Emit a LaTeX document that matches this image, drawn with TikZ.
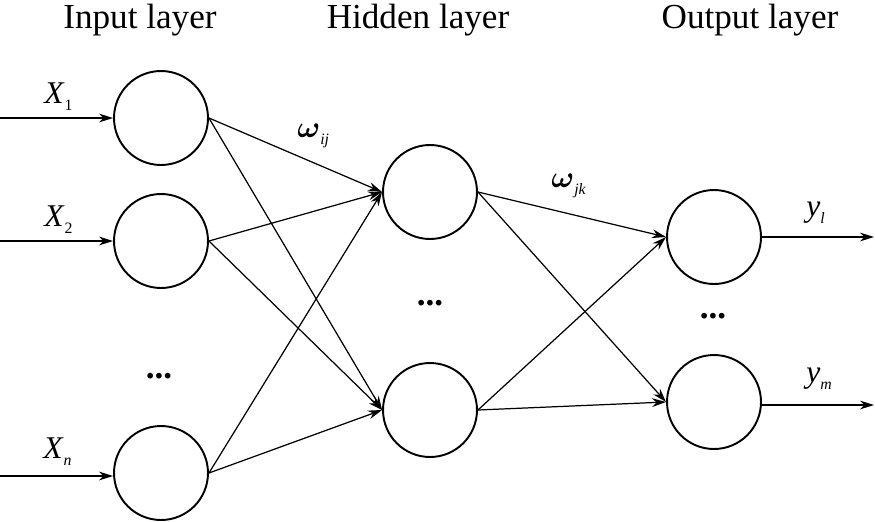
\documentclass[tikz,border=0pt]{standalone}
\usepackage{fontspec}
\setmainfont{Liberation Serif}
\usepackage{amsmath,bm}
\usetikzlibrary{arrows.meta}
\newcommand\subx[1]{\raisebox{-4pt}{\fontsize{9}{9}\selectfont #1}}
\begin{document}
\begin{tikzpicture}[x=0.02cm,y=-0.02cm,
  neuron/.style={circle,draw,line width=1.1pt,minimum size=1.88cm,inner sep=0pt},
  conn/.style={-{Stealth[length=8pt,width=5pt]},line width=0.7pt},
  title/.style={font=\fontsize{20}{24}\selectfont,anchor=base},
  lab/.style={font=\fontsize{18}{20}\selectfont,anchor=base west,inner sep=0pt},
  dots/.style={font=\fontsize{20}{20}\selectfont\bfseries,inner sep=0pt}]
\useasboundingbox (0,0) rectangle (875,521);
% titles
\node[title] (t1) at (140,28) {Input layer};
\node[title] (t2) at (418,28) {Hidden layer};
\node[title] (t3) at (750,28) {Output layer};
% neurons
\node[neuron] (i1) at (161,118) {};
\node[neuron] (i2) at (161,241) {};
\node[neuron] (i3) at (161,473) {};
\node[neuron] (h1) at (430,192) {};
\node[neuron] (h2) at (430,410) {};
\node[neuron] (o1) at (714,237) {};
\node[neuron] (o2) at (714,402) {};
% dots
\node[dots] (d1) at (159,376) {...};
\node[dots] (d2) at (430,303) {...};
\node[dots] (d3) at (713,316) {...};
% inputs
\coordinate (a1) at (0,118);
\coordinate (a2) at (0,241);
\coordinate (a3) at (0,476);
\draw[conn] (a1) -- (i1);
\draw[conn] (a2) -- (i2);
\draw[conn] (a3) -- (i3.west|-a3);
% outputs
\coordinate (b1) at (874,237);
\coordinate (b2) at (874,405);
\draw[conn] (o1) -- (b1);
\draw[conn] (o2.east|-b2) -- (b2);
% connections
\foreach \s in {i1,i2,i3}{
  \draw[conn] (\s.east) -- (h1.west);
  \draw[conn] (\s.east) -- (h2.west);
}
\foreach \s in {h1,h2}{
  \draw[conn] (\s.east) -- (o1.west);
  \draw[conn] (\s.east) -- (o2.west);
}
% labels
\node[lab] (x1) at (44,103) {\textit{X}\subx{1}};
\node[lab] (x2) at (44,226) {\textit{X}\subx{2}};
\node[lab] (x3) at (43,458) {\textit{X}\subx{\textit{n}}};
\node[lab] (w1) at (297,137) {$\bm{\omega}$\subx{\textit{ij}}};
\node[lab] (w2) at (551,187) {$\bm{\omega}$\subx{\textit{jk}}};
\node[lab] (y1) at (806,216) {\textit{y}\subx{\textit{l}}};
\node[lab] (y2) at (806,382) {\textit{y}\subx{\textit{m}}};
\end{tikzpicture}
\end{document}
